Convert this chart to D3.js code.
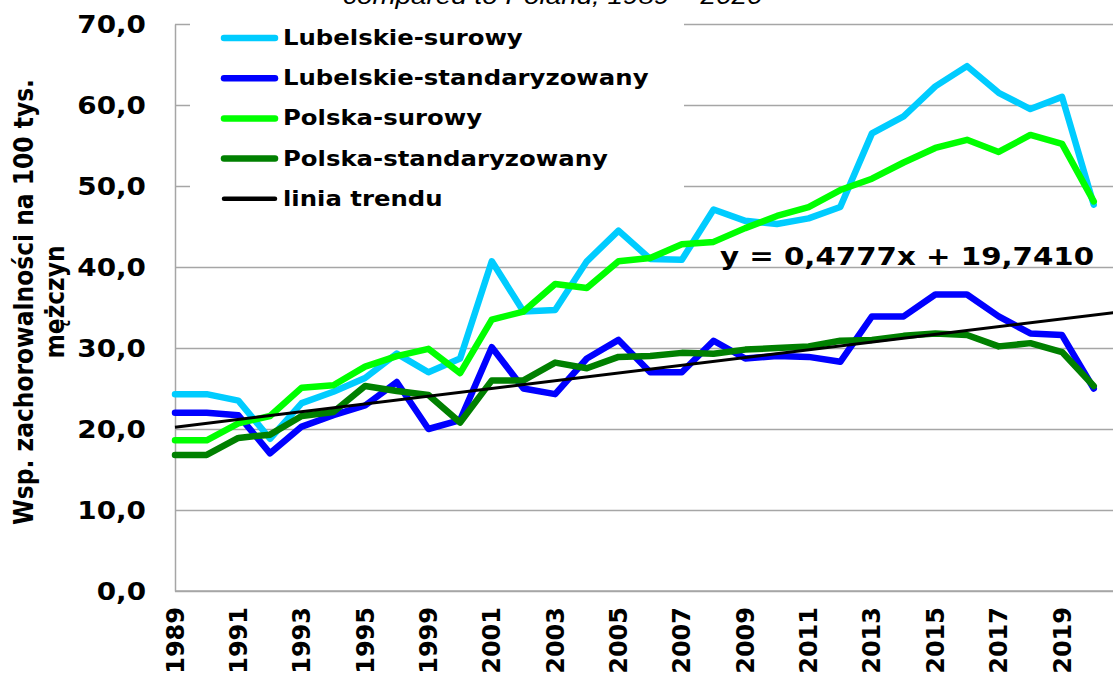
<!DOCTYPE html>
<html>
<head>
<meta charset="utf-8">
<script src="https://cdn.jsdelivr.net/npm/d3@7"></script>
<style>
  body { margin: 0; background: #fff; }
  svg { display: block; }
  text { font-family: "DejaVu Sans", Verdana, sans-serif; font-weight: bold; fill: #000; }
</style>
</head>
<body>
<svg id="chart" width="1113" height="677"></svg>
<script>
// years on the category axis (one year missing between 1995 and 1999)
const years = ["1989","1990","1991","1992","1993","1994","1995","1997","1999","2000",
  "2001","2002","2003","2004","2005","2006","2007","2008","2009","2010",
  "2011","2012","2013","2014","2015","2016","2017","2018","2019","2020"];

const lubSurowy = [24.3,24.3,23.5,18.8,23.2,24.6,26.3,29.3,27.0,28.7,
  40.7,34.5,34.7,40.7,44.5,41.0,40.9,47.1,45.7,45.3,
  46.0,47.4,56.5,58.6,62.3,64.8,61.5,59.5,61.0,47.7];
const lubStand = [22.0,22.0,21.7,17.0,20.3,21.7,22.9,25.8,20.0,21.1,
  30.1,25.0,24.3,28.7,31.0,27.0,27.0,30.9,28.7,29.0,
  28.9,28.3,33.9,33.9,36.6,36.6,33.9,31.8,31.6,25.0];
const polSurowy = [18.6,18.6,20.7,21.6,25.1,25.4,27.7,29.0,29.9,26.9,
  33.5,34.5,37.9,37.4,40.7,41.1,42.8,43.1,44.8,46.3,
  47.4,49.5,50.9,52.9,54.7,55.7,54.2,56.3,55.2,48.1];
const polStand = [16.8,16.8,18.9,19.3,21.6,22.1,25.3,24.7,24.2,20.8,
  26.0,26.0,28.2,27.5,28.9,29.0,29.4,29.3,29.8,30.0,
  30.2,30.9,31.0,31.5,31.8,31.6,30.2,30.6,29.5,25.3];

// linear trend y = a*x + b, x = 1..n
const trendSlope = 0.4777;
const trendIntercept = 19.7410;

const seriesNames = ["Lubelskie-surowy","Lubelskie-standaryzowany","Polska-surowy","Polska-standaryzowany"];
const seriesColors = ["#00CCFF","#0000FF","#00FF00","#008000"];
const yTicks = [0,10,20,30,40,50,60,70];

const svg = d3.select("#chart");
const plotLeft = 175, plotRight = 1130, plotTop = 24, plotBottom = 591;
const stretch = 1.16;

let x = d3.scalePoint().domain(years).range([plotLeft, plotLeft + 31.68 * (years.length - 1)]);
let xi = d3.scaleLinear().domain([0, years.length - 1]).range(x.range());
let y = d3.scaleLinear().domain([0, 70]).range([plotBottom, plotTop]);

// gridlines
svg.append("g")
  .attr("transform", "translate(" + plotLeft + ",0)")
  .call(d3.axisLeft(y).tickValues(yTicks).tickSize(-(plotRight - plotLeft)).tickFormat(""))
  .call(g => g.select(".domain").remove())
  .call(g => g.selectAll("line").attr("stroke", "#a6a6a6").attr("stroke-width", 1.5));

// y axis
let yAxis = svg.append("g")
  .attr("transform", "translate(" + plotLeft + ",0)")
  .call(d3.axisLeft(y).tickValues(yTicks).tickSize(0)
    .tickFormat(d => d3.format(".1f")(d).replace(".", ",")));
yAxis.select(".domain").attr("stroke", "#a6a6a6").attr("stroke-width", 1.5);
yAxis.selectAll("text")
  .attr("x", 0).attr("dy", "0.36em")
  .attr("transform", "translate(-29,0) scale(" + stretch + ",1)")
  .style("font-size", "24px").style("font-family", "DejaVu Sans").style("font-weight", "bold")
  .attr("fill", "#000");

// x axis
let xAxis = svg.append("g")
  .attr("transform", "translate(0," + plotBottom + ")")
  .call(d3.axisBottom(x).tickSize(0).tickValues(years.filter((d, i) => i % 2 === 0)));
xAxis.select(".domain").attr("d", "M" + plotLeft + ",0H" + plotRight)
  .attr("stroke", "#a6a6a6").attr("stroke-width", 1.5);
xAxis.selectAll("text")
  .attr("x", 0).attr("y", 0).attr("dy", null)
  .attr("text-anchor", "end")
  .attr("transform", "translate(8,16) rotate(-90)")
  .style("font-size", "24px").style("font-family", "DejaVu Sans").style("font-weight", "bold")
  .attr("fill", "#000");

// legend box (white background covering gridlines)
svg.append("rect").attr("x", 190).attr("y", 10).attr("width", 494).attr("height", 212).attr("fill", "#fff");

// series lines
const allSeries = [lubSurowy, lubStand, polSurowy, polStand];
let line = d3.line().x((d, i) => x(years[i])).y(d => y(d));
allSeries.forEach(function(s, k) {
  svg.append("path")
    .datum(s)
    .attr("d", line)
    .attr("fill", "none")
    .attr("stroke", seriesColors[k])
    .attr("stroke-width", 6.5)
    .attr("stroke-linejoin", "round")
    .attr("stroke-linecap", "round");
});

// trend line
let trendX = [1, years.length + 1];
svg.append("path")
  .datum(trendX)
  .attr("d", d3.line().x(t => xi(t - 1)).y(t => y(trendSlope * t + trendIntercept)))
  .attr("stroke", "#000").attr("stroke-width", 3).attr("fill", "none");

// trend equation
svg.append("text")
  .attr("transform", "translate(720,265) scale(1.22,1)")
  .style("font-size", "24px")
  .text("y = " + d3.format(".4f")(trendSlope).replace(".", ",") + "x + " + d3.format(".4f")(trendIntercept).replace(".", ","));

// legend
const legendItems = seriesNames.concat(["linia trendu"]);
const legendColors = seriesColors.concat(["#000"]);
legendItems.forEach(function(name, k) {
  let ly = 38 + k * 40.2;
  svg.append("line")
    .attr("x1", 224).attr("x2", 275).attr("y1", ly).attr("y2", ly)
    .attr("stroke", legendColors[k])
    .attr("stroke-width", k === 4 ? 4.5 : 6.5)
    .attr("stroke-linecap", "round");
  svg.append("text")
    .attr("transform", "translate(283," + (ly + 7) + ") scale(" + stretch + ",1)")
    .style("font-size", "21px")
    .text(name);
});

// y axis title
let yTitle = svg.append("g")
  .attr("transform", "translate(33,302) scale(" + stretch + ",1) rotate(-90)");
yTitle.append("text").attr("text-anchor", "middle").style("font-size", "23.4px")
  .text("Wsp. zachorowalności na 100 tys.");
yTitle.append("text").attr("text-anchor", "middle").attr("y", 26.7).style("font-size", "23.4px")
  .text("mężczyn");

// chart title (only bottom line visible)
svg.append("text")
  .attr("transform", "translate(343,3.5) scale(" + stretch + ",1)")
  .style("font-family", "Liberation Sans, Arial, sans-serif")
  .style("font-weight", "normal").style("font-style", "italic").style("font-size", "24px")
  .text("compared to Poland, 1989 – 2020");
</script>
</body>
</html>
